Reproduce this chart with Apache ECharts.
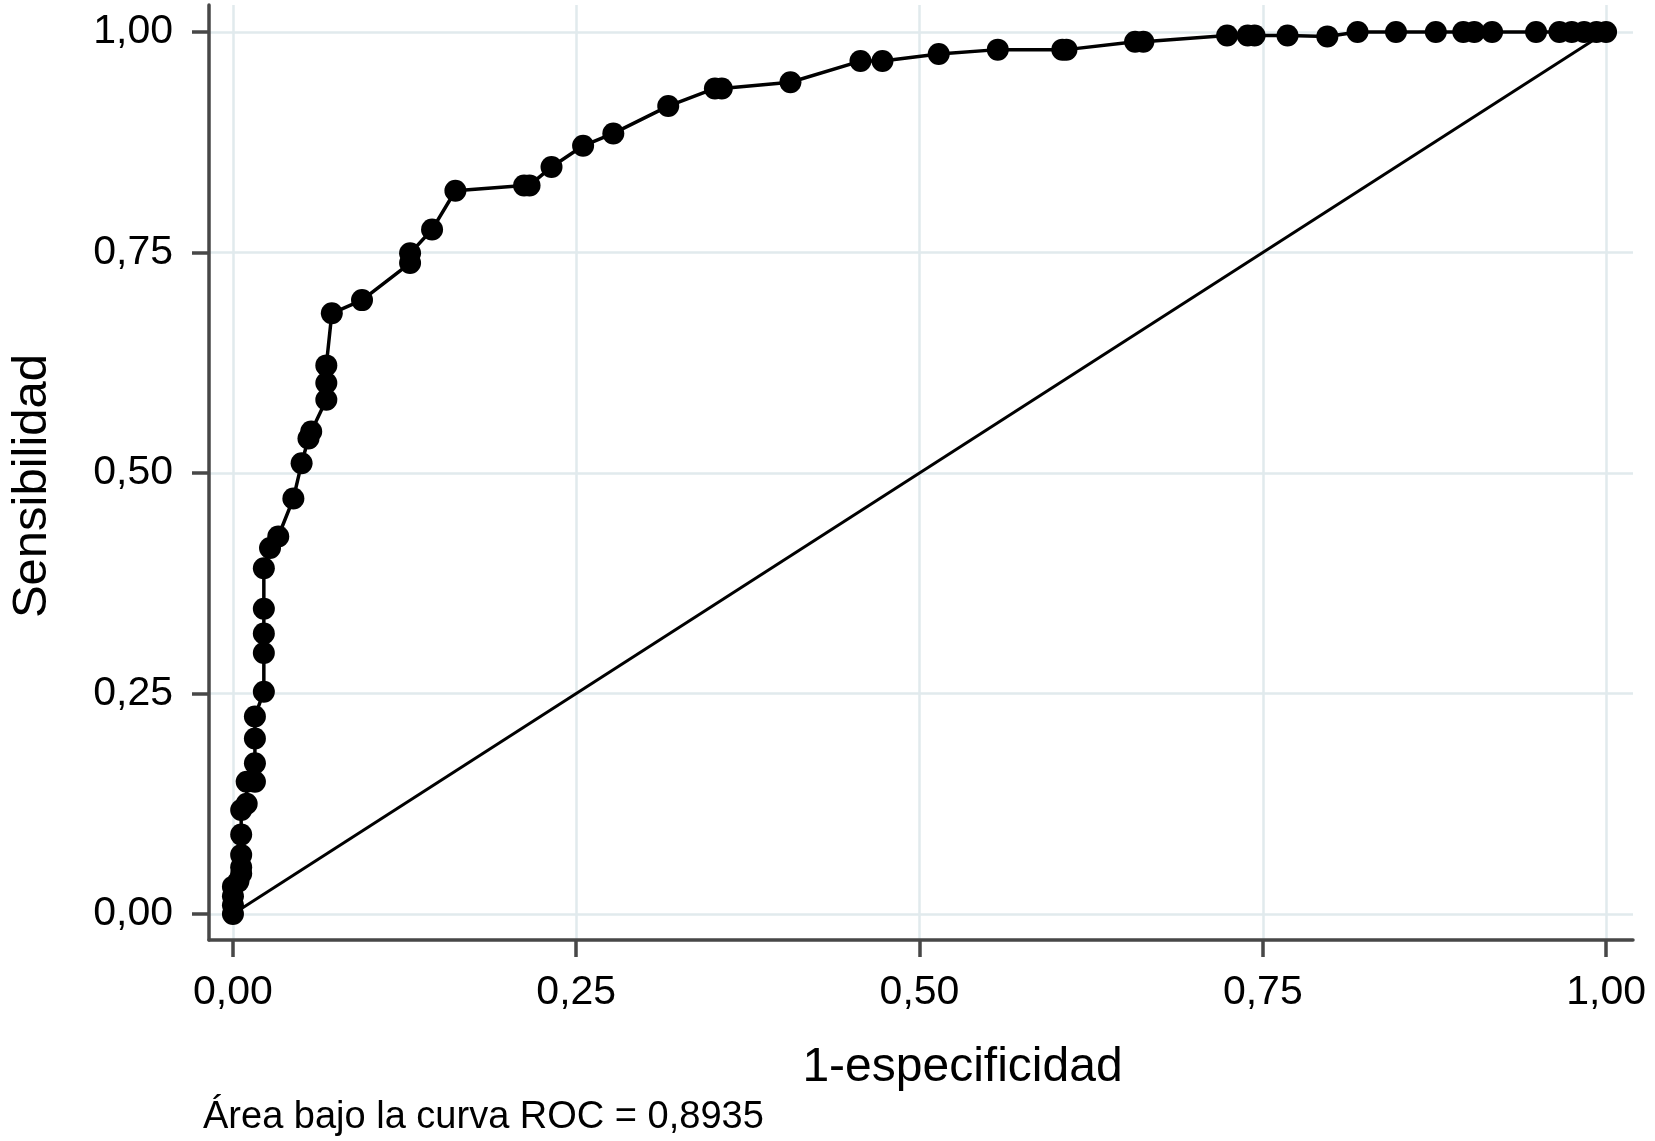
<!DOCTYPE html>
<html>
<head>
<meta charset="utf-8">
<script src="https://cdn.jsdelivr.net/npm/echarts@6/dist/echarts.min.js"></script>
<style>
html,body{margin:0;padding:0;background:#fff;}
#chart{width:1655px;height:1141px;}
</style>
</head>
<body>
<div id="chart"></div>
<script>
// 1-especificidad (false positive rate) values of the ROC points
const fpr = [0, 0, 0, 0, 0.004, 0.006, 0.006, 0.006, 0.006, 0.006, 0.010, 0.010, 0.016,
  0.016, 0.016, 0.016, 0.0225, 0.0225, 0.0225, 0.0225, 0.0225, 0.027, 0.033, 0.044, 0.050,
  0.055, 0.057, 0.068, 0.068, 0.068, 0.072, 0.094, 0.129, 0.129, 0.145, 0.162, 0.212, 0.216,
  0.232, 0.255, 0.277, 0.317, 0.351, 0.356, 0.406, 0.457, 0.473, 0.514, 0.557, 0.604, 0.607,
  0.657, 0.663, 0.724, 0.739, 0.744, 0.768, 0.797, 0.819, 0.847, 0.876, 0.896, 0.904, 0.917,
  0.949, 0.966, 0.975, 0.984, 0.993, 1.0];
// Sensibilidad (true positive rate) values of the ROC points
const tpr = [0, 0.010, 0.020, 0.031, 0.037, 0.046, 0.053, 0.067, 0.090, 0.118, 0.125, 0.150, 0.150,
  0.171, 0.199, 0.224, 0.252, 0.296, 0.318, 0.346, 0.392, 0.415, 0.428, 0.471, 0.511,
  0.539, 0.547, 0.583, 0.602, 0.622, 0.681, 0.696, 0.738, 0.749, 0.776, 0.820, 0.826, 0.826,
  0.847, 0.871, 0.885, 0.916, 0.936, 0.936, 0.943, 0.967, 0.967, 0.975, 0.980, 0.980, 0.980,
  0.989, 0.989, 0.996, 0.996, 0.996, 0.996, 0.995, 1, 1, 1, 1, 1, 1,
  1, 1, 1, 1, 1, 1];
const diagX = [0, 1];
const diagY = [0, 1];
const tickValues = [0, 0.25, 0.5, 0.75, 1];
const tickLabels = ['0,00', '0,25', '0,50', '0,75', '1,00'];
const xTitle = '1-especificidad';
const yTitle = 'Sensibilidad';
const caption = 'Área bajo la curva ROC = 0,8935';

const rocData = fpr.map((x, i) => [x, tpr[i]]);
const diagData = diagX.map((x, i) => [x, diagY[i]]);
const fmt = v => {
  const i = tickValues.findIndex(t => Math.abs(t - v) < 1e-9);
  return i >= 0 ? tickLabels[i] : '';
};

const font = '"Liberation Sans", Arial, sans-serif';
const axisColor = '#474747';
const gridColor = '#e1eaed';

const chart = echarts.init(document.getElementById('chart'), null, {renderer: 'canvas'});
chart.setOption({
  backgroundColor: '#ffffff',
  animation: false,
  grid: {left: 206, right: 22, top: 5, bottom: 201, containLabel: false},
  xAxis: {
    type: 'value', min: -0.01744, max: 1.0196,
    name: xTitle, nameLocation: 'middle', nameGap: 104,
    nameTextStyle: {fontFamily: font, fontSize: 48, color: '#000', padding: [0, 0, 0, 83]},
    axisLine: {show: true, onZero: false, lineStyle: {color: axisColor, width: 3.5}},
    axisTick: {show: true, inside: false, length: 17, customValues: tickValues, lineStyle: {color: axisColor, width: 3.5}},
    axisLabel: {customValues: tickValues, formatter: fmt, margin: 32, fontFamily: font, fontSize: 41, color: '#000'},
    splitLine: {show: true, lineStyle: {color: gridColor, width: 2.5}}
  },
  yAxis: {
    type: 'value', min: -0.0295, max: 1.0306,
    name: yTitle, nameLocation: 'middle', nameGap: 152,
    nameTextStyle: {fontFamily: font, fontSize: 49, color: '#000', padding: [0, 27, 0, 0]},
    axisLine: {show: true, onZero: false, lineStyle: {color: axisColor, width: 3.5}},
    axisTick: {show: true, inside: false, length: 17, customValues: tickValues, lineStyle: {color: axisColor, width: 3.5}},
    axisLabel: {customValues: tickValues, formatter: fmt, margin: 36, fontFamily: font, fontSize: 41, color: '#000'},
    splitLine: {show: true, lineStyle: {color: gridColor, width: 2.5}}
  },
  graphic: [{
    type: 'text', left: 203, top: 1099,
    style: {text: caption, fontFamily: font, fontSize: 38, fill: '#000'}
  }],
  series: [
    {
      type: 'line', data: diagData, symbol: 'none', silent: true,
      lineStyle: {color: '#000', width: 3}, z: 2
    },
    {
      type: 'line', data: rocData, symbol: 'circle', symbolSize: 22,
      showAllSymbol: true,
      itemStyle: {color: '#000'},
      lineStyle: {color: '#000', width: 3.5}, z: 3
    }
  ]
});
</script>
</body>
</html>
